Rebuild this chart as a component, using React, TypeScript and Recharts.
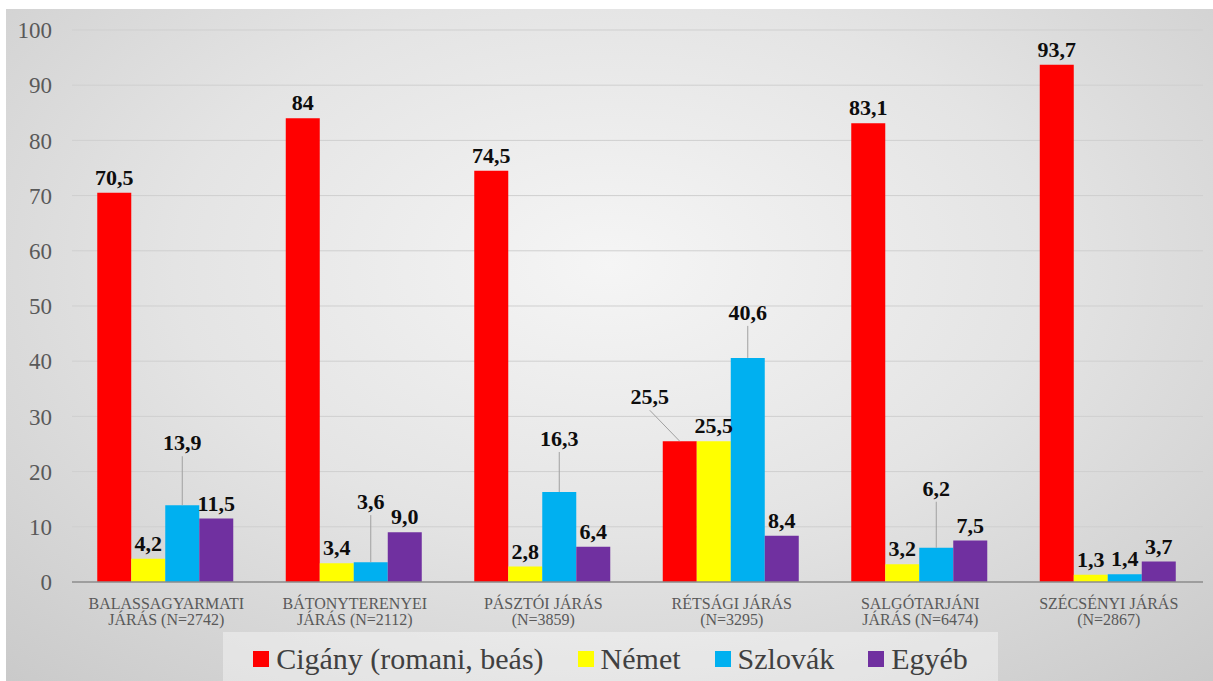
import React from 'react';
import { BarChart, Bar, XAxis, YAxis, CartesianGrid, Legend, LabelList } from 'recharts';

const categories = [
  'BALASSAGYARMATI\nJÁRÁS (N=2742)',
  'BÁTONYTERENYEI\nJÁRÁS (N=2112)',
  'PÁSZTÓI JÁRÁS\n(N=3859)',
  'RÉTSÁGI JÁRÁS\n(N=3295)',
  'SALGÓTARJÁNI\nJÁRÁS (N=6474)',
  'SZÉCSÉNYI JÁRÁS\n(N=2867)',
];
const cigany = [70.5, 84, 74.5, 25.5, 83.1, 93.7];
const nemet = [4.2, 3.4, 2.8, 25.5, 3.2, 1.3];
const szlovak = [13.9, 3.6, 16.3, 40.6, 6.2, 1.4];
const egyeb = [11.5, 9.0, 6.4, 8.4, 7.5, 3.7];
const yTicks = [0, 10, 20, 30, 40, 50, 60, 70, 80, 90, 100];

const series = [
  { key: 'cigany', name: 'Cigány (romani, beás)', color: '#ff0000' },
  { key: 'nemet', name: 'Német', color: '#ffff00' },
  { key: 'szlovak', name: 'Szlovák', color: '#00b0f0' },
  { key: 'egyeb', name: 'Egyéb', color: '#7030a0' },
];

const data = categories.map((name, i) => ({
  name,
  cigany: cigany[i],
  nemet: nemet[i],
  szlovak: szlovak[i],
  egyeb: egyeb[i],
}));

// labels that were dragged away from their bar in the original: [dx, extra lift]
const labelShift: Record<string, Record<number, [number, number]>> = {
  cigany: { 3: [-30, 29] },
  szlovak: { 0: [0, 47], 1: [0, 45], 2: [0, 38], 3: [0, 30], 4: [0, 44] },
};

const fmt = (key: string) => (v: number) =>
  key === 'cigany' ? String(v).replace('.', ',') : v.toFixed(1).replace('.', ',');

const makeLabel = (key: string) => (props: any) => {
  const x = Number(props.x);
  const y = Number(props.y);
  const w = Number(props.width);
  const shift = labelShift[key]?.[props.index] ?? [0, 0];
  const cx = x + w / 2;
  const base = y - 8 - shift[1];
  const lx = cx + shift[0];
  return (
    <g>
      {shift[1] > 0 && (
        <line x1={lx} y1={base + 6} x2={cx} y2={y} stroke="#a0a0a0" strokeWidth={1} />
      )}
      <text x={lx} y={base} textAnchor="middle" fontFamily="Tinos" fontWeight="bold" fontSize={22} fill="#0d0d0d">
        {fmt(key)(Number(props.value))}
      </text>
    </g>
  );
};

const CategoryTick = (props: any) => {
  const { x, y, payload } = props;
  const lines = String(payload.value).split('\n');
  return (
    <text x={x} y={y} textAnchor="middle" fontFamily="Tinos" fontSize={16} fill="#595959">
      {lines.map((l, i) => (
        <tspan key={i} x={x} dy={i === 0 ? 19 : 16}>
          {l}
        </tspan>
      ))}
    </text>
  );
};

const LegendBox = () => (
  <div
    style={{
      height: 49,
      boxSizing: 'border-box',
      paddingTop: 4,
      background: 'rgba(255,255,255,0.38)',
      display: 'flex',
      justifyContent: 'center',
      alignItems: 'center',
      fontFamily: "'Times New Roman'",
      fontSize: 30,
      color: '#404040',
    }}
  >
    {series.map((s) => (
      <div key={s.key} style={{ display: 'flex', alignItems: 'center', margin: '0 17px' }}>
        <span style={{ width: 16, height: 16, background: s.color, marginRight: 7, display: 'inline-block' }} />
        <span>{s.name}</span>
      </div>
    ))}
  </div>
);

export default function App() {
  return (
    <div style={{ position: 'absolute', left: 0, top: 0, width: 1213, height: 681, background: '#fff' }}>
      <div
        style={{
          position: 'absolute',
          left: 6,
          top: 9,
          width: 1207,
          height: 672,
          background:
            'radial-gradient(ellipse 80% 90% at 50% 38%, #f5f5f5 0%, #e4e4e4 45%, #c6c6c6 100%)',
        }}
      >
        <BarChart
          width={1207}
          height={672}
          data={data}
          margin={{ top: 21, right: 10, bottom: 0, left: 0 }}
          barGap={0}
          barCategoryGap="13.4%"
        >
          <CartesianGrid vertical={false} stroke="#cfcfcf" strokeWidth={1} />
          <XAxis
            dataKey="name"
            tickLine={false}
            axisLine={{ stroke: '#8c8c8c', strokeWidth: 1.5 }}
            tick={<CategoryTick />}
            interval={0}
            height={50}
          />
          <YAxis
            domain={[0, 100]}
            ticks={yTicks}
            axisLine={false}
            tickLine={false}
            width={66}
            tickMargin={14}
            tick={{ fontFamily: 'serif', fontSize: 23, fill: '#595959' }}
          />
          <Legend
            content={<LegendBox />}
            wrapperStyle={{ left: 217, bottom: 0, width: 775, height: 49 }}
          />
          {series.map((s) => (
            <Bar key={s.key} dataKey={s.key} name={s.name} fill={s.color} isAnimationActive={false}>
              <LabelList dataKey={s.key} content={makeLabel(s.key)} />
            </Bar>
          ))}
        </BarChart>
      </div>
    </div>
  );
}
